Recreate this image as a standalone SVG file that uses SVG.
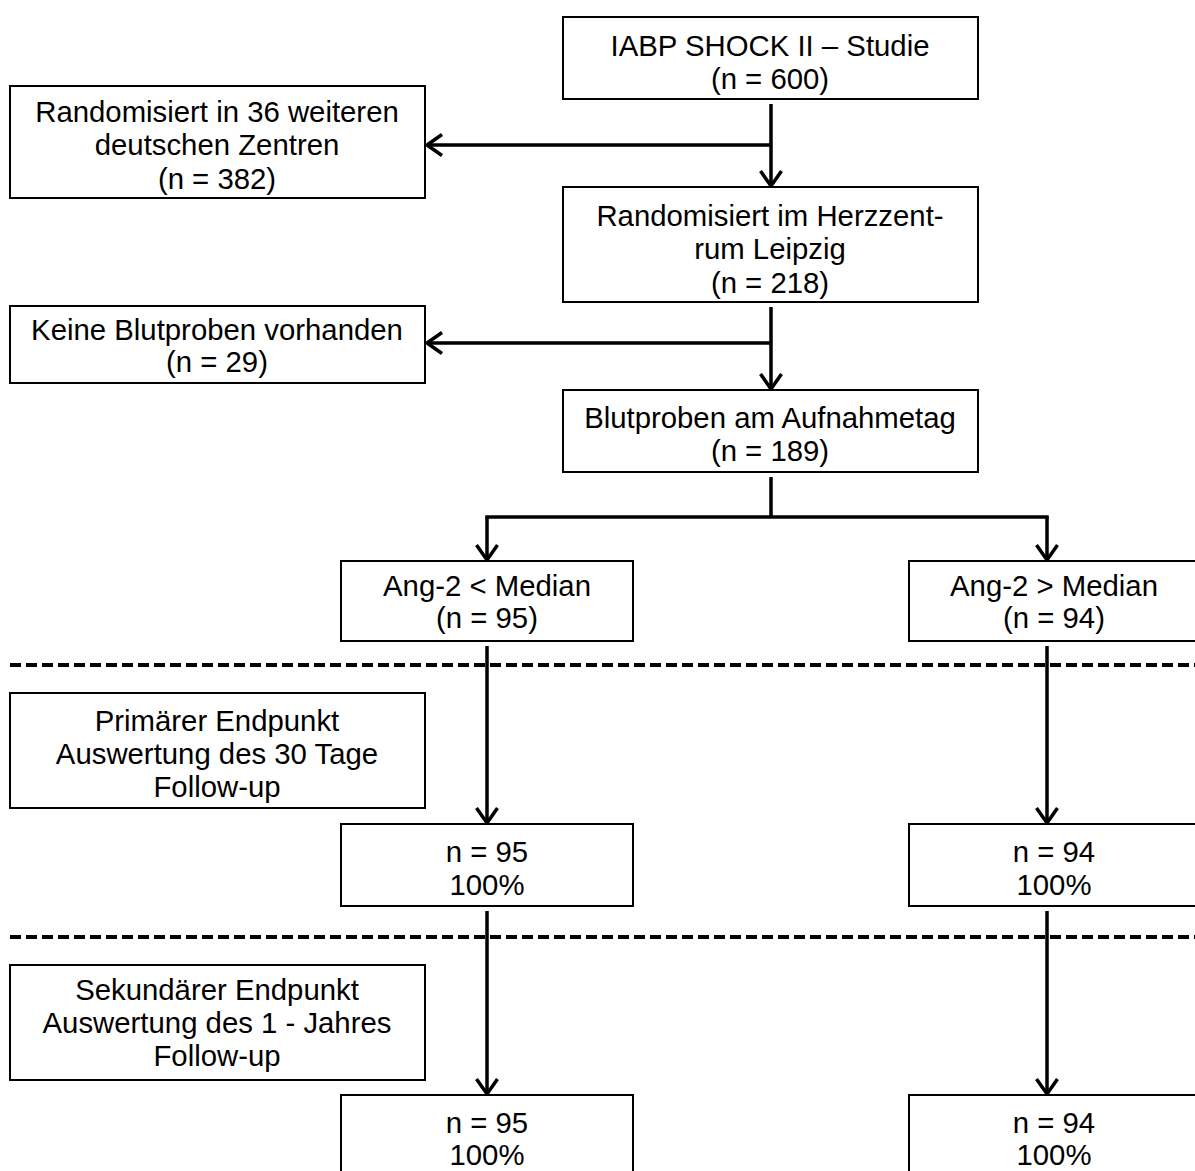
<svg xmlns="http://www.w3.org/2000/svg" width="1195" height="1171" viewBox="0 0 1195 1171">
<style>
.box{fill:#fff;stroke:#000;stroke-width:2}
.t{font-family:"Liberation Sans",Arial,sans-serif;font-size:29.33px;fill:#000;text-anchor:middle}
.c{stroke:#000;stroke-width:3.5;fill:none}
.d{stroke:#000;stroke-width:4;stroke-dasharray:11 5;fill:none}
</style>
<defs>
<marker id="ah" markerUnits="userSpaceOnUse" viewBox="-18 -13 20 26" refX="0" refY="0" markerWidth="20" markerHeight="26" orient="auto" overflow="visible">
<path d="M-15,-10.5 L0,0 L-15,10.5" fill="none" stroke="#000" stroke-width="3.5"/>
</marker>
</defs>
<rect width="1195" height="1171" fill="#fff"/>
<g id="dividers">
<line class="d" x1="10" y1="665" x2="1195" y2="665"/>
<line class="d" x1="10" y1="937" x2="1195" y2="937"/>
</g>
<g id="connectors">
<line class="c" x1="771" y1="104" x2="771" y2="186" marker-end="url(#ah)"/>
<line class="c" x1="771" y1="145" x2="427" y2="145" marker-end="url(#ah)"/>
<line class="c" x1="771" y1="307" x2="771" y2="389" marker-end="url(#ah)"/>
<line class="c" x1="771" y1="343" x2="427" y2="343" marker-end="url(#ah)"/>
<polyline class="c" points="771,477 771,517"/>
<line class="c" x1="485.25" y1="517" x2="1048.75" y2="517"/>
<line class="c" x1="487" y1="517" x2="487" y2="560" marker-end="url(#ah)"/>
<line class="c" x1="1047" y1="517" x2="1047" y2="560" marker-end="url(#ah)"/>
<line class="c" x1="487" y1="646" x2="487" y2="823" marker-end="url(#ah)"/>
<line class="c" x1="1047" y1="646" x2="1047" y2="823" marker-end="url(#ah)"/>
<line class="c" x1="487" y1="911" x2="487" y2="1094" marker-end="url(#ah)"/>
<line class="c" x1="1047" y1="911" x2="1047" y2="1094" marker-end="url(#ah)"/>
</g>
<g id="n-iabp">
<rect class="box" x="563" y="17" width="415" height="82"/>
<text class="t" x="770" y="56">IABP SHOCK II – Studie</text>
<text class="t" x="770" y="89">(n = 600)</text>
</g>
<g id="n-weitere">
<rect class="box" x="10" y="86" width="415" height="112"/>
<text class="t" x="217" y="122">Randomisiert in 36 weiteren</text>
<text class="t" x="217" y="155">deutschen Zentren</text>
<text class="t" x="217" y="189">(n = 382)</text>
</g>
<g id="n-leipzig">
<rect class="box" x="563" y="187" width="415" height="115"/>
<text class="t" x="770" y="226">Randomisiert im Herzzent-</text>
<text class="t" x="770" y="259">rum Leipzig</text>
<text class="t" x="770" y="293">(n = 218)</text>
</g>
<g id="n-keine">
<rect class="box" x="10" y="306" width="415" height="77"/>
<text class="t" x="217" y="340">Keine Blutproben vorhanden</text>
<text class="t" x="217" y="372">(n = 29)</text>
</g>
<g id="n-blut">
<rect class="box" x="563" y="390" width="415" height="82"/>
<text class="t" x="770" y="428">Blutproben am Aufnahmetag</text>
<text class="t" x="770" y="461">(n = 189)</text>
</g>
<g id="n-low">
<rect class="box" x="341" y="561" width="292" height="80"/>
<text class="t" x="487" y="596">Ang-2 &lt; Median</text>
<text class="t" x="487" y="628">(n = 95)</text>
</g>
<g id="n-high">
<rect class="box" x="909" y="561" width="292" height="80"/>
<text class="t" x="1054" y="596">Ang-2 &gt; Median</text>
<text class="t" x="1054" y="628">(n = 94)</text>
</g>
<g id="n-primaer">
<rect class="box" x="10" y="693" width="415" height="115"/>
<text class="t" x="217" y="731">Primärer Endpunkt</text>
<text class="t" x="217" y="764">Auswertung des 30 Tage</text>
<text class="t" x="217" y="797">Follow-up</text>
</g>
<g id="n-low30">
<rect class="box" x="341" y="824" width="292" height="82"/>
<text class="t" x="487" y="862">n = 95</text>
<text class="t" x="487" y="895">100%</text>
</g>
<g id="n-high30">
<rect class="box" x="909" y="824" width="292" height="82"/>
<text class="t" x="1054" y="862">n = 94</text>
<text class="t" x="1054" y="895">100%</text>
</g>
<g id="n-sekundaer">
<rect class="box" x="10" y="965" width="415" height="115"/>
<text class="t" x="217" y="1000">Sekundärer Endpunkt</text>
<text class="t" x="217" y="1033">Auswertung des 1 - Jahres</text>
<text class="t" x="217" y="1066">Follow-up</text>
</g>
<g id="n-low1y">
<rect class="box" x="341" y="1095" width="292" height="90"/>
<text class="t" x="487" y="1133">n = 95</text>
<text class="t" x="487" y="1165">100%</text>
</g>
<g id="n-high1y">
<rect class="box" x="909" y="1095" width="292" height="90"/>
<text class="t" x="1054" y="1133">n = 94</text>
<text class="t" x="1054" y="1165">100%</text>
</g>
</svg>
